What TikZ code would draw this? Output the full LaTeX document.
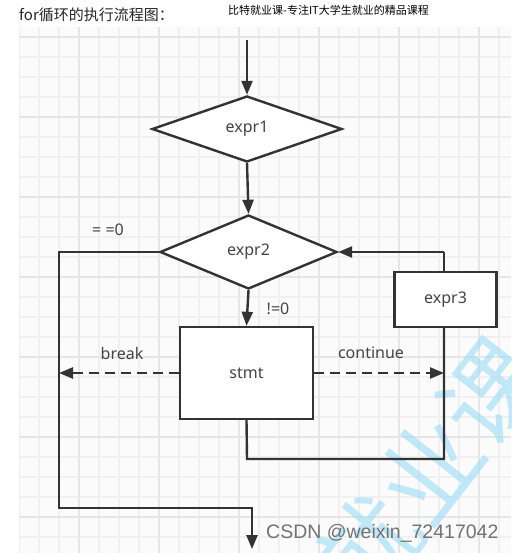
\documentclass[tikz,border=0pt]{standalone}
\usepackage{fontspec}
\usetikzlibrary{arrows.meta,shapes.geometric}
\newfontfamily\nsans{Noto Sans}
\newfontfamily\lsans{Liberation Sans}
\newfontfamily\cjk{Noto Sans CJK SC}
\definecolor{linec}{HTML}{333333}
\definecolor{txtc}{HTML}{444444}
\definecolor{gridminor}{HTML}{F0F0F0}
\definecolor{gridmajor}{HTML}{E6E6E6}
\definecolor{wm}{HTML}{9ADCF6}
\tikzset{
  ln/.style={draw=linec,line width=2.4pt},
  arr/.style={ln,-{Triangle[length=14pt,width=11pt]}},
  dsh/.style={dash pattern=on 10pt off 6pt},
  dia/.style={diamond,ln,fill=white,inner sep=0pt,font=\nsans\fontsize{16}{16}\selectfont,text=txtc},
  boxn/.style={rectangle,ln,fill=white,inner sep=0pt,font=\nsans\fontsize{16}{16}\selectfont,text=txtc},
  lbl/.style={font=\nsans\fontsize{16}{16}\selectfont,text=txtc,inner sep=0pt}
}
\begin{document}
\begin{tikzpicture}[x=1pt,y=-1pt]
\useasboundingbox (0,0) rectangle (511,553);
\fill[white] (0,0) rectangle (511,553);
% grid
\begin{scope}
\clip (19,27) rectangle (511,553);
\fill[gray!3] (19,27) rectangle (511,553);
\foreach \x in {19,39,...,519} \draw[gridminor,line width=1.2pt] (\x,27) -- (\x,553);
\foreach \y in {37,57,...,553} \draw[gridminor,line width=1.2pt] (19,\y) -- (511,\y);
\foreach \x in {79,159,...,519} \draw[gridmajor,line width=1.4pt] (\x,27) -- (\x,553);
\foreach \y in {37,117,...,553} \draw[gridmajor,line width=1.4pt] (19,\y) -- (511,\y);
% watermark
\node[rotate=52,text=wm,text opacity=0.6,font=\cjk\fontsize{100}{100}\selectfont,inner sep=0pt] (wmark) at (430,470) {就业课};
\end{scope}
% titles
\node[anchor=west,font=\cjk\fontsize{15}{15}\selectfont,text=black!85,inner sep=0pt] (title) at (19,15) {for循环的执行流程图：};
\node[anchor=west,font=\cjk\fontsize{11}{11}\selectfont,text=black,inner sep=0pt] (banner) at (228,10) {比特就业课-专注IT大学生就业的精品课程};
% nodes
\node[dia,minimum width=190pt,minimum height=66pt] (e1) at (247,129) {expr1};
\node[dia,minimum width=177pt,minimum height=74pt] (e2) at (248.5,252) {expr2};
\node[boxn,minimum width=133pt,minimum height=92pt] (stmt) at (246.5,373) {stmt};
\node[boxn,minimum width=102pt,minimum height=55pt] (e3) at (445.5,299.5) {expr3};
% coordinates
\coordinate (top) at (247,40);
\coordinate (bk) at (59,373);
\coordinate (ct) at (444,373);
\coordinate (lb) at (247,459);
\coordinate (lr) at (444,459);
\coordinate (up) at (444,252);
\coordinate (c1) at (59,252);
\coordinate (c2) at (59,508);
\coordinate (c3) at (252,508);
\coordinate (endp) at (252,549);
% connectors
\draw[arr] (top) -- (e1.north);
\draw[arr] (e1.south) -- (e2.north);
\draw[arr] (e2.south) -- (stmt.north);
\draw[ln] (stmt.south) -- (lb) -- (lr) -- (e3.south -| lr);
\draw[ln] (e3.north -| up) -- (up);
\draw[arr] (up) -- (e2.east);
\draw[arr,dsh] (stmt.west) -- (bk);
\draw[arr,dsh] (stmt.east) -- (ct);
\draw[arr] (e2.west) -- (c1) -- (c2) -- (c3) -- (endp);
% labels
\node[lbl] (ne) at (278,309) {!=0};
\node[lbl] (brk) at (122,353) {break};
\node[lbl] (cont) at (371,353) {continue};
\node[lbl] (eq) at (108,230) {= =0};
\node[anchor=west,font=\lsans\fontsize{19.5}{19.5}\selectfont,text=black!55,inner sep=0pt] (csdn) at (266,533) {CSDN @weixin\_72417042};
\end{tikzpicture}
\end{document}
